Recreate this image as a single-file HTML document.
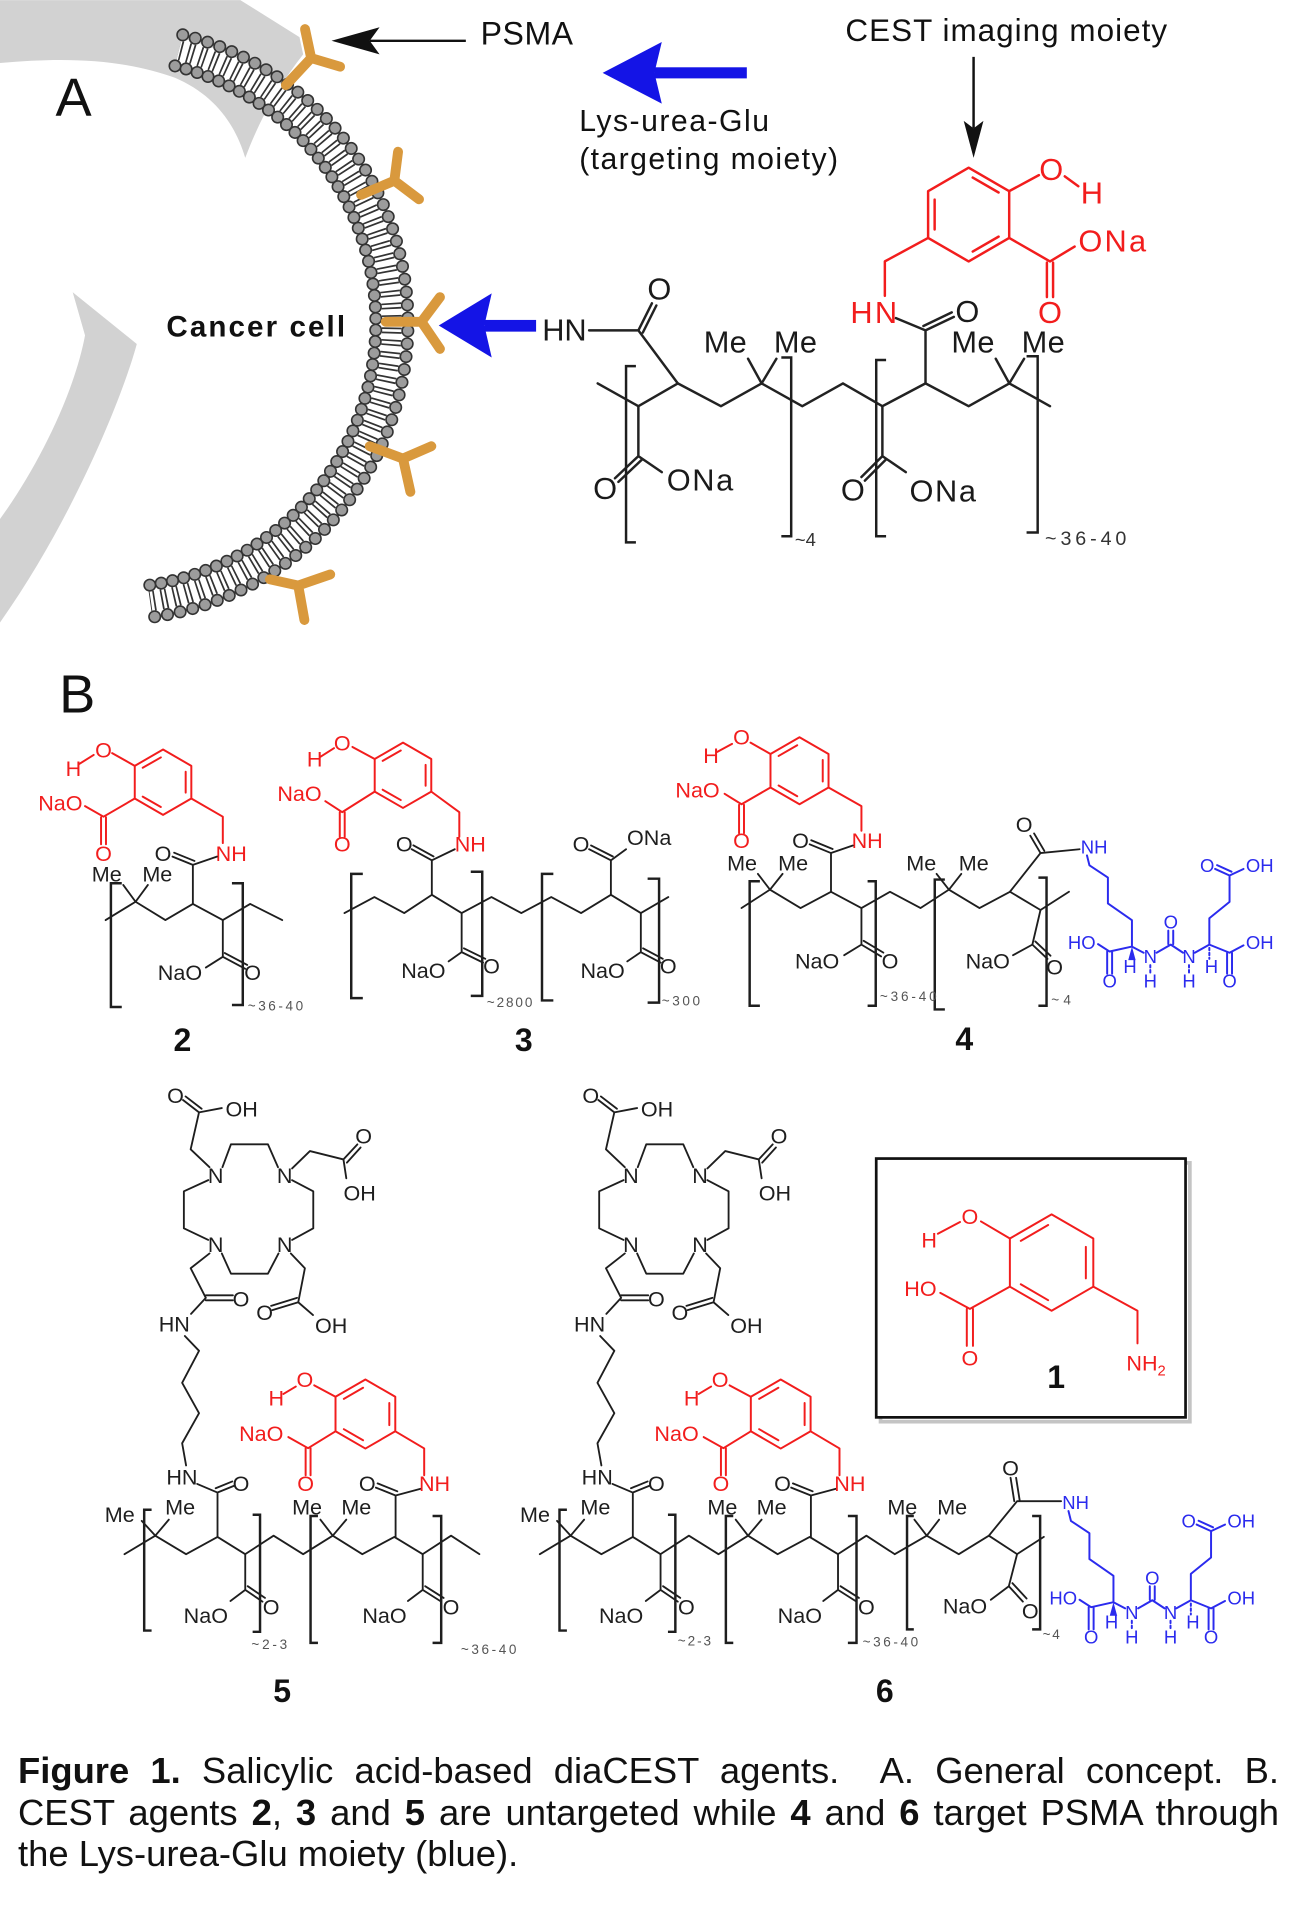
<!DOCTYPE html>
<html><head><meta charset="utf-8">
<style>
html,body{margin:0;padding:0;background:#fff;}
#wrap{position:relative;width:1294px;height:1924px;overflow:hidden;background:#fff;}
svg{position:absolute;left:0;top:0;}
text{font-family:"Liberation Sans",Arial,sans-serif;}
.ka{stroke:#222;stroke-width:2;fill:none;stroke-linecap:round;stroke-linejoin:round}
.ra{stroke:#f21d1d;stroke-width:2;fill:none;stroke-linecap:round;stroke-linejoin:round}
.k{stroke:#1e1e1e;stroke-width:1.5;fill:none;stroke-linecap:round;stroke-linejoin:round}
.r{stroke:#f21d1d;stroke-width:1.6;fill:none;stroke-linecap:round;stroke-linejoin:round}
.u{stroke:#2b2bee;stroke-width:1.6;fill:none;stroke-linecap:round;stroke-linejoin:round}
.br{stroke:#1e1e1e;stroke-width:2;fill:none}
.tk{fill:#1e1e1e;font-size:17.5px}
.tr{fill:#f21d1d;font-size:17.5px}
.tu{fill:#2b2bee;font-size:15px}
.ts{fill:#555;font-size:11px}
.ta{fill:#1a1a1a;font-size:25px}
.tar{fill:#f21d1d;font-size:25px}
.lbl{fill:#111;font-size:26px;font-weight:bold}
.m{text-anchor:middle}
.e{text-anchor:end}
.cap{position:absolute;left:18px;width:1261px;font-family:"Liberation Sans",Arial,sans-serif;font-size:36.4px;line-height:36.4px;color:#111;text-align:justify;text-align-last:justify;}
</style></head>
<body><div id="wrap">
<svg width="1294" height="1924" viewBox="0 0 1050 1561" xmlns="http://www.w3.org/2000/svg">
<!-- ===== A ===== -->
<path d="M0,0 L195,0 L243,30 L246,44 C232,62 214,88 199,128 C190,98 172,76 142,63 C100,48 55,46 0,51 Z" fill="#d2d2d2"/>
<path d="M59,237 L111,279 C100,320 60,420 0,505 L0,421 C30,380 60,320 69,272 Z" fill="#d2d2d2"/>
<!-- membrane -->
<path d="M145.16,40.77 A228,228 0 0 1 121.73,487.78" stroke="#fff" stroke-width="20" fill="none"/>
<path d="M145.16,40.77 A228,228 0 0 1 121.73,487.78" stroke="#333" stroke-width="16" fill="none" stroke-dasharray="5 4.9484" stroke-dashoffset="2.5"/>
<path d="M145.16,40.77 A228,228 0 0 1 121.73,487.78" stroke="#fff" stroke-width="16" fill="none" stroke-dasharray="2.2 7.7484" stroke-dashoffset="1.1"/>
<path d="M148.30,28.16 A241,241 0 0 1 123.54,500.66" stroke="#333" stroke-width="10.6" fill="none" stroke-linecap="round" stroke-dasharray="0 10.5156"/>
<path d="M148.30,28.16 A241,241 0 0 1 123.54,500.66" stroke="#9c9c9c" stroke-width="8" fill="none" stroke-linecap="round" stroke-dasharray="0 10.5156"/>
<path d="M142.01,53.39 A215,215 0 0 1 119.92,474.91" stroke="#333" stroke-width="10.6" fill="none" stroke-linecap="round" stroke-dasharray="0 9.3811"/>
<path d="M142.01,53.39 A215,215 0 0 1 119.92,474.91" stroke="#9c9c9c" stroke-width="8" fill="none" stroke-linecap="round" stroke-dasharray="0 9.3811"/>
<!-- PSMA receptors -->
<g stroke="#d9993d" stroke-width="8" fill="none" stroke-linecap="round" stroke-linejoin="round">
<path d="M232,69 L252.5,47 M247.5,23.5 L252.5,47 L276,54"/>
<path d="M293,158 L320,146.5 M323,123 L320,146.5 L340,161.6"/>
<path d="M313,261 L342,261 M357,241 L342,261 L357,283"/>
<path d="M300,362 L327,372 M350,362 L327,372 L333,399"/>
<path d="M219,470 L242,475 M268,466 L242,475 L247,503"/>
</g>
<text x="45" y="94" font-size="44" fill="#111">A</text>
<text x="390" y="36" font-size="26" fill="#111" textLength="75">PSMA</text>
<path d="M378,33 H300" stroke="#111" stroke-width="2"/>
<polygon points="269,33 308,22 300,33 308,44" fill="#111"/>
<text x="686" y="33" font-size="25.5" fill="#111" textLength="261">CEST imaging moiety</text>
<path d="M790,46 V104" stroke="#111" stroke-width="2"/>
<polygon points="790,128 782,98 790,104 798,98" fill="#111"/>
<polygon points="489,59 537,34 531,59 537,84" fill="#1414e6"/>
<rect x="531" y="54.5" width="75" height="9" fill="#1414e6"/>
<text x="470" y="106" font-size="24.5" fill="#111" textLength="154">Lys-urea-Glu</text>
<text x="470" y="137" font-size="24.5" fill="#111" textLength="210">(targeting moiety)</text>
<text x="135" y="273" font-size="24" font-weight="bold" fill="#111" textLength="145">Cancer cell</text>
<polygon points="356,264 399,238 393,264 399,290" fill="#1414e6"/>
<rect x="393" y="259.5" width="42" height="9.5" fill="#1414e6"/>
<!-- A chemistry -->
<text x="440" y="276" class="ta" textLength="36">HN</text>
<path class="ka" d="M478,268 H518 L550,311"/>
<path class="ka" d="M518,268 L529,246 M521.6,269.8 L532.6,247.8"/>
<text x="535" y="243" class="ta m">O</text>
<path class="ka" d="M485,311 L518,329.5 L550,311 L585,329.5 L618,311 L651,329.5 L684,311 L716,329.5 L751,311 L786,329.5 L819,311 L852,329.5"/>
<path class="ka" d="M607,291 L618,311 L630,291 M808,291 L819,311 L831,291"/>
<text x="571" y="286" class="ta" textLength="35">Me</text>
<text x="628" y="286" class="ta" textLength="35">Me</text>
<text x="772" y="286" class="ta" textLength="35">Me</text>
<text x="829" y="286" class="ta" textLength="35">Me</text>
<path class="ka" d="M518,329.5 V370 L537,383 M518,370 L499,388 M520.8,372.9 L501.8,390.9"/>
<text x="491" y="405" class="ta m">O</text>
<text x="541" y="398" class="ta" textLength="54">ONa</text>
<path class="ka" d="M716,329.5 V370 L735,383 M716,370 L699,387 M718.8,372.9 L701.8,389.9"/>
<text x="692" y="406" class="ta m">O</text>
<text x="738" y="407" class="ta" textLength="54">ONa</text>
<path class="ka" d="M727,258 L751,268 V311 M751,268 L774,257 M749.3,264.4 L772.3,253.4"/>
<text x="785" y="261" class="ta m">O</text>
<path class="br" d="M516,297 H508 V440 H516 M634,290 H642 V435 H634 M719,292 H711 V435 H719 M833,289 H842 V432 H833"/>
<text x="645" y="443" font-size="15" fill="#333">~4</text>
<text x="848" y="442" font-size="16" fill="#333" textLength="66">~36-40</text>
<!-- red A -->
<path class="ra" d="M786,136 L818.9,155 L818.9,193 L786,212 L753.1,193 L753.1,155 Z"/>
<path class="ra" d="M789.3,144 L810.3,156.1 M810.3,191.9 L789.3,204 M758.4,186.1 V161.9"/>
<path class="ra" d="M818.9,155 L843,142 M864,143 L875,151 M818.9,193 L852,212 L872,200 M849.5,213 V241 M854.5,213 V241 M753.1,193 L718,212 V240"/>
<text x="853" y="146" class="tar m">O</text>
<text x="886" y="165" class="tar m">H</text>
<text x="875" y="204" class="tar" textLength="55">ONa</text>
<text x="852" y="262" class="tar m">O</text>
<text x="690" y="262" class="tar" textLength="38">HN</text>

<!-- ===== B ===== -->
<text x="48" y="578" font-size="44" fill="#111">B</text>

<!-- compound 2 -->
<path class="r" d="M132.3,608.1 L155.25,621.35 L155.25,647.85 L132.3,661.1 L109.35,647.85 L109.35,621.35 Z"/>
<path class="r" d="M115.8,622.9 L130.5,614.5 M150.66,626.1 V643.1 M115.8,646.3 L130.5,654.7"/>
<path class="r" d="M109.35,621.35 L91,611 M64,620 L76,612.5 M109.35,647.85 L84,662.6 L69,654 M82,663 V685 M86,663 V685 M155.25,647.85 L180.8,662.6 V684"/>
<text x="84" y="614.5" class="tr m">O</text>
<text x="59.6" y="629.5" class="tr m">H</text>
<text x="67" y="657.5" class="tr e">NaO</text>
<text x="84" y="698.4" class="tr m">O</text>
<text x="175" y="698.4" class="tr">NH</text>
<path class="k" d="M176,695 L156.5,701.7 V733.4 M156.5,701.7 L140,695 M157.8,698.5 L141.3,691.8"/>
<text x="132.3" y="698.4" class="tk m">O</text>
<path class="k" d="M85.7,746.5 L110,731.6 L134.2,746.5 L156.5,733.4 L180.8,746.5 L203,733.4 L229,746.5 M100,718 L110,731.6 L120,718"/>
<text x="74.5" y="715" class="tk">Me</text>
<text x="115.5" y="715" class="tk">Me</text>
<path class="k" d="M180.8,746.5 V776.3 L167,785 M180.8,776.3 L199,786 M182.4,773.2 L200.6,782.9"/>
<text x="205" y="795.3" class="tk m">O</text>
<text x="164" y="795.3" class="tk e">NaO</text>
<path class="br" d="M98.8,716.6 H90 V817 H98.8 M188.2,716.6 H197 V815.4 H188.2"/>
<text x="201" y="820" class="ts" textLength="45">~36-40</text>
<text x="148" y="852.7" class="lbl m">2</text>

<!-- compound 3 -->
<path class="r" d="M327,602.5 L349.95,615.75 L349.95,642.25 L327,655.5 L304.05,642.25 L304.05,615.75 Z"/>
<path class="r" d="M310.5,617.3 L325.2,608.9 M345.36,620.5 V637.5 M310.5,640.7 L325.2,649.1"/>
<path class="r" d="M304.05,615.75 L286,606 M260,614 L271,607 M304.05,642.25 L277.7,658.9 L264,650 M275.7,659 V679 M279.7,659 V679 M349.95,642.25 L372.7,658.9 V679"/>
<text x="277.7" y="609" class="tr m">O</text>
<text x="255.3" y="622" class="tr m">H</text>
<text x="261" y="650" class="tr e">NaO</text>
<text x="277.7" y="691" class="tr m">O</text>
<text x="369" y="691" class="tr">NH</text>
<path class="k" d="M369,689 L350.4,698 V726 M350.4,698 L334,689 M351.8,694.8 L335.4,685.8"/>
<text x="328" y="691" class="tk m">O</text>
<path class="k" d="M279.5,740.8 L303.8,727.8 L328,740.8 L350.4,726 L374.6,740.8 L398.8,727.8 L423,740.8 L447.3,727.8 L471.5,740.8 L495.7,726 L520,740.8 L542.3,727.8"/>
<path class="k" d="M374.6,740.8 V772.5 L364,780 M374.6,772.5 L392,781 M376.4,769.4 L393.8,777.9"/>
<text x="398.8" y="789.7" class="tk m">O</text>
<text x="361.5" y="793.4" class="tk e">NaO</text>
<path class="k" d="M495.7,726 V698 L508,689 M495.7,698 L478,689 M497.3,694.9 L479.6,685.9"/>
<text x="471.5" y="691" class="tk m">O</text>
<text x="508.8" y="685.4" class="tk">ONa</text>
<path class="k" d="M520,740.8 V772.5 L509,780 M520,772.5 L536,781 M521.8,769.4 L537.8,777.9"/>
<text x="542.3" y="789.7" class="tk m">O</text>
<text x="507" y="793.4" class="tk e">NaO</text>
<path class="br" d="M294.4,709 H285 V809.8 H294.4 M382,707.3 H391.3 V808 H382 M449,709 H439.8 V811.7 H449 M525.5,712.9 H534.8 V813.5 H525.5"/>
<text x="395" y="817" class="ts" textLength="37">~2800</text>
<text x="537" y="815.6" class="ts" textLength="31">~300</text>
<text x="425" y="852.7" class="lbl m">3</text>

<!-- compound 4 -->
<path class="r" d="M648.75,598.1 L672.3,611.7 L672.3,638.9 L648.75,652.5 L625.2,638.9 L625.2,611.7 Z"/>
<path class="r" d="M631.8,613.3 L646.9,604.6 M667.6,616.6 V634 M631.8,637.3 L646.9,646"/>
<path class="r" d="M625.2,611.7 L609,602.5 M582,610 L594,603.5 M625.2,638.9 L601.7,652.5 L588,644 M599.7,653 V676 M603.7,653 V676 M672.3,638.9 L699,654 V674"/>
<text x="601.7" y="604" class="tr m">O</text>
<text x="577" y="619" class="tr m">H</text>
<text x="584" y="647" class="tr e">NaO</text>
<text x="601.7" y="688" class="tr m">O</text>
<text x="691" y="688" class="tr">NH</text>
<path class="k" d="M692,686 L674.3,692.1 V723.5 M674.3,692.1 L657,685 M675.6,688.8 L658.3,681.7"/>
<text x="649.6" y="688" class="tk m">O</text>
<path class="k" d="M601.7,736.7 L624.8,721.8 L649.6,736.7 L674.3,723.5 L699,736.7 L722.2,723.5 L747,736.7 L770,721.8 L794.8,736.7 L819.5,723.5 L844.3,738.3 L867.4,723.5"/>
<path class="k" d="M615,709 L624.8,721.8 L635,709 M760,709 L770,721.8 L780,709"/>
<text x="590" y="706.4" class="tk">Me</text>
<text x="631.4" y="706.4" class="tk">Me</text>
<text x="735.4" y="706.4" class="tk">Me</text>
<text x="778" y="706.4" class="tk">Me</text>
<path class="k" d="M699,736.7 V766.4 L685,775 M699,766.4 L715,776 M700.8,763.3 L716.8,772.9"/>
<text x="722.2" y="785.6" class="tk m">O</text>
<text x="681" y="785.6" class="tk e">NaO</text>
<path class="k" d="M819.5,723.5 L844.3,692.1 L876,689 M844.3,692.1 L836,678 M847.4,690.3 L839.1,676.2"/>
<text x="831" y="675" class="tk m">O</text>
<path class="k" d="M844.3,738.3 L837.7,766.4 L822,775 M837.7,766.4 L850,778 M840.1,763.8 L852.4,775.4"/>
<text x="855.8" y="790.5" class="tk m">O</text>
<text x="819.5" y="785.6" class="tk e">NaO</text>
<path class="br" d="M616.6,715 H608.3 V816 H616.6 M704,715 H710.6 V816 H704 M766.7,713.6 H758.5 V819 H766.7 M842.6,712 H849.2 V816 H842.6"/>
<text x="714" y="812" class="ts" textLength="46">~36-40</text>
<text x="853" y="815" class="ts" textLength="16">~4</text>
<text x="782.5" y="852" class="lbl m">4</text>
<!-- blue moiety (4) -->
<g>
<path class="u" d="M882,694 L884,702 L899,712 L899,733 L918.5,746.6 L918.5,768 M918.5,768 L900.4,772 L891,766 M898.4,772 V790 M902.4,772 V790 M918.5,768 L928,773 M938.5,773 L950,766.4 L960,773 M948,766 V755 M952,766 V755 M969.5,773 L981.3,766.4 L997.7,773 L1009,767 M995.7,773 V790 M999.7,773 V790 M981.3,766.4 V745 L997.7,731.7 V710.3 L986,705 M999.3,707.2 L987.6,701.9 M997.7,710.3 L1009,705"/>
<path class="u" d="M933.4,783 V790 M964.8,783 V790 M981.3,769 V778" stroke-dasharray="2 2"/>
<polygon points="918.5,768 915.5,779 921.5,779" fill="#2b2bee"/>
<text x="877" y="692.5" class="tu">NH</text>
<text x="889" y="770" class="tu e">HO</text>
<text x="900.4" y="801.3" class="tu m">O</text>
<text x="917" y="789.5" class="tu m" font-size="14">H</text>
<text x="933.4" y="781.5" class="tu m">N</text>
<text x="933.4" y="801.3" class="tu m" font-size="14">H</text>
<text x="950" y="753.5" class="tu m">O</text>
<text x="964.8" y="781.5" class="tu m">N</text>
<text x="964.8" y="801.3" class="tu m" font-size="14">H</text>
<text x="983" y="789.5" class="tu m" font-size="14">H</text>
<text x="1011" y="770" class="tu">OH</text>
<text x="997.7" y="801.3" class="tu m">O</text>
<text x="979.6" y="707.5" class="tu m">O</text>
<text x="1011" y="707.5" class="tu">OH</text>
</g>

<!-- compound 5 -->
<g>
<path class="k" d="M170,947 L154.7,932.5 L161.5,902.5 M161.5,902.5 L148.5,892.5 M163.6,899.6 L150.6,889.6 M161.5,902.5 L180,899"/>
<path class="k" d="M180.5,947 L187.4,928.4 L217.4,928.4 L225.6,947 M237,957.5 L254.2,966.6 L254.2,996.6 L237,1006 M226,1017 L217.4,1033.4 L187.4,1033.4 L180,1017 M169,1006 L149.2,996.6 L149.2,966.6 L169,957.5"/>
<path class="k" d="M237,948 L251.5,933.9 L278.7,940.7 M278.7,940.7 L290,928.5 M281.5,943.3 L292.6,931 M278.7,940.7 L281,956"/>
<path class="k" d="M236,1017 L247.4,1029 L242,1056.6 M242,1056.6 L221,1063 M241,1053 L220,1059.5 M242,1056.6 L254,1067"/>
<path class="k" d="M170,1017 L154.7,1029 L167,1053 M167,1051 H189 M167,1055 H189 M167,1053 L155,1066"/>
<path class="k" d="M150,1084 L161.5,1096 L147.8,1122 L161.5,1146.6 L147.8,1171 L151,1189"/>
<path class="k" d="M160,1204 L176.5,1211 V1247 M176.5,1211 L190,1205.5 M175,1207.5 L188.5,1202"/>
<path class="k" d="M101,1261 L126,1246 L151,1261 L176.5,1247 L199,1261 L222,1246 L246,1261 L270,1246 L294,1261 L320,1247 L343,1261 L366,1246 L389,1261"/>
<path class="k" d="M115,1234 L126,1246 L137,1233 M260,1233 L270,1246 L281,1233"/>
<path class="k" d="M199,1261 V1290 L187,1299 M199,1290 L213,1299.5 M201,1287 L215,1296.5"/>
<path class="k" d="M343,1261 V1290 L331,1299 M343,1290 L358,1299.5 M345,1287 L360,1296.5"/>
<path class="k" d="M341,1208 L321,1213.4 V1247 M321,1213.4 L305,1207 M322.4,1210 L306.4,1203.6"/>
<path class="r" d="M296.5,1119.3 L320.75,1133.3 L320.75,1161.3 L296.5,1175.3 L272.25,1161.3 L272.25,1133.3 Z"/>
<path class="r" d="M279,1135 L294.6,1126 M315.9,1138.3 V1156.3 M279,1159.6 L294.6,1168.6"/>
<path class="r" d="M272.25,1133.3 L255,1124 M230,1131 L240,1125 M272.25,1161.3 L250,1175 L234,1166 M248,1175 V1197 M252,1175 V1197 M320.75,1161.3 L344.2,1175.2 V1197"/>
<path class="br" d="M123,1225 H117 V1323 H123 M205,1229 H211 V1324 H205 M258,1230 H252 V1333 H258 M351,1230 H358 V1333 H351"/>
<text x="142.4" y="894.9" class="tk m">O</text>
<text x="183" y="905.8" class="tk">OH</text>
<text x="175" y="960" class="tk m">N</text>
<text x="231" y="960" class="tk m">N</text>
<text x="175" y="1016" class="tk m">N</text>
<text x="231" y="1016" class="tk m">N</text>
<text x="295.1" y="927.6" class="tk m">O</text>
<text x="278.7" y="974" class="tk">OH</text>
<text x="214.7" y="1070.8" class="tk m">O</text>
<text x="255.6" y="1081.7" class="tk">OH</text>
<text x="195.6" y="1059.9" class="tk m">O</text>
<text x="128.8" y="1080.3" class="tk">HN</text>
<text x="135" y="1204.4" class="tk">HN</text>
<text x="195.6" y="1209.8" class="tk m">O</text>
<text x="85" y="1235" class="tk">Me</text>
<text x="134" y="1229" class="tk">Me</text>
<text x="237" y="1229" class="tk">Me</text>
<text x="277" y="1229" class="tk">Me</text>
<text x="298" y="1209.8" class="tk m">O</text>
<text x="220" y="1310" class="tk m">O</text>
<text x="185" y="1317" class="tk e">NaO</text>
<text x="366" y="1310" class="tk m">O</text>
<text x="330" y="1317" class="tk e">NaO</text>
<text x="247.4" y="1125.3" class="tr m">O</text>
<text x="224.2" y="1140.3" class="tr m">H</text>
<text x="230" y="1169" class="tr e">NaO</text>
<text x="248" y="1209.8" class="tr m">O</text>
<text x="340" y="1209.8" class="tr">NH</text>
</g>
<text x="204" y="1338" class="ts" textLength="29">~2-3</text>
<text x="374" y="1342" class="ts" textLength="45">~36-40</text>
<text x="229" y="1381" class="lbl m">5</text>

<!-- compound 6 -->
<g transform="translate(337,0)">
<path class="k" d="M170,947 L154.7,932.5 L161.5,902.5 M161.5,902.5 L148.5,892.5 M163.6,899.6 L150.6,889.6 M161.5,902.5 L180,899"/>
<path class="k" d="M180.5,947 L187.4,928.4 L217.4,928.4 L225.6,947 M237,957.5 L254.2,966.6 L254.2,996.6 L237,1006 M226,1017 L217.4,1033.4 L187.4,1033.4 L180,1017 M169,1006 L149.2,996.6 L149.2,966.6 L169,957.5"/>
<path class="k" d="M237,948 L251.5,933.9 L278.7,940.7 M278.7,940.7 L290,928.5 M281.5,943.3 L292.6,931 M278.7,940.7 L281,956"/>
<path class="k" d="M236,1017 L247.4,1029 L242,1056.6 M242,1056.6 L221,1063 M241,1053 L220,1059.5 M242,1056.6 L254,1067"/>
<path class="k" d="M170,1017 L154.7,1029 L167,1053 M167,1051 H189 M167,1055 H189 M167,1053 L155,1066"/>
<path class="k" d="M150,1084 L161.5,1096 L147.8,1122 L161.5,1146.6 L147.8,1171 L151,1189"/>
<path class="k" d="M160,1204 L176.5,1211 V1247 M176.5,1211 L190,1205.5 M175,1207.5 L188.5,1202"/>
<path class="k" d="M101,1261 L126,1246 L151,1261 L176.5,1247 L199,1261 L222,1246 L246,1261 L270,1246 L294,1261 L320,1247 L343,1261 L366,1246 L389,1261"/>
<path class="k" d="M115,1234 L126,1246 L137,1233 M260,1233 L270,1246 L281,1233"/>
<path class="k" d="M199,1261 V1290 L187,1299 M199,1290 L213,1299.5 M201,1287 L215,1296.5"/>
<path class="k" d="M343,1261 V1290 L331,1299 M343,1290 L358,1299.5 M345,1287 L360,1296.5"/>
<path class="k" d="M341,1208 L321,1213.4 V1247 M321,1213.4 L305,1207 M322.4,1210 L306.4,1203.6"/>
<path class="r" d="M296.5,1119.3 L320.75,1133.3 L320.75,1161.3 L296.5,1175.3 L272.25,1161.3 L272.25,1133.3 Z"/>
<path class="r" d="M279,1135 L294.6,1126 M315.9,1138.3 V1156.3 M279,1159.6 L294.6,1168.6"/>
<path class="r" d="M272.25,1133.3 L255,1124 M230,1131 L240,1125 M272.25,1161.3 L250,1175 L234,1166 M248,1175 V1197 M252,1175 V1197 M320.75,1161.3 L344.2,1175.2 V1197"/>
<path class="br" d="M123,1225 H117 V1323 H123 M205,1229 H211 V1324 H205 M258,1230 H252 V1333 H258 M351,1230 H358 V1333 H351"/>
<text x="142.4" y="894.9" class="tk m">O</text>
<text x="183" y="905.8" class="tk">OH</text>
<text x="175" y="960" class="tk m">N</text>
<text x="231" y="960" class="tk m">N</text>
<text x="175" y="1016" class="tk m">N</text>
<text x="231" y="1016" class="tk m">N</text>
<text x="295.1" y="927.6" class="tk m">O</text>
<text x="278.7" y="974" class="tk">OH</text>
<text x="214.7" y="1070.8" class="tk m">O</text>
<text x="255.6" y="1081.7" class="tk">OH</text>
<text x="195.6" y="1059.9" class="tk m">O</text>
<text x="128.8" y="1080.3" class="tk">HN</text>
<text x="135" y="1204.4" class="tk">HN</text>
<text x="195.6" y="1209.8" class="tk m">O</text>
<text x="85" y="1235" class="tk">Me</text>
<text x="134" y="1229" class="tk">Me</text>
<text x="237" y="1229" class="tk">Me</text>
<text x="277" y="1229" class="tk">Me</text>
<text x="298" y="1209.8" class="tk m">O</text>
<text x="220" y="1310" class="tk m">O</text>
<text x="185" y="1317" class="tk e">NaO</text>
<text x="366" y="1310" class="tk m">O</text>
<text x="330" y="1317" class="tk e">NaO</text>
<text x="247.4" y="1125.3" class="tr m">O</text>
<text x="224.2" y="1140.3" class="tr m">H</text>
<text x="230" y="1169" class="tr e">NaO</text>
<text x="248" y="1209.8" class="tr m">O</text>
<text x="340" y="1209.8" class="tr">NH</text>
</g>
<path class="k" d="M726,1261 L752,1246 L778,1261 L802.4,1246 L825.3,1261 L847,1247 M742,1233 L752,1246 L762,1233"/>
<path class="k" d="M802.4,1246 L825.3,1218 L861,1218 M823,1218 L820,1199 M827.5,1218 L824.5,1199"/>
<path class="k" d="M825.3,1261 L818.6,1287 L804,1298 M818.6,1287 L830,1299.5 M821.5,1284.5 L833,1297"/>
<path class="br" d="M741.5,1230 H736 V1322 H741.5 M837.5,1230 H844 V1322 H837.5"/>
<text x="720" y="1229" class="tk">Me</text>
<text x="760.5" y="1229" class="tk">Me</text>
<text x="820" y="1197" class="tk m">O</text>
<text x="836" y="1313.4" class="tk m">O</text>
<text x="801" y="1309" class="tk e">NaO</text>
<text x="550" y="1335" class="ts" textLength="27">~2-3</text>
<text x="700" y="1336" class="ts" textLength="45">~36-40</text>
<text x="846" y="1330" class="ts" textLength="14">~4</text>
<text x="718" y="1381" class="lbl m">6</text>
<g transform="translate(-15,532)">
<path class="u" d="M882,694 L884,702 L899,712 L899,733 L918.5,746.6 L918.5,768 M918.5,768 L900.4,772 L891,766 M898.4,772 V790 M902.4,772 V790 M918.5,768 L928,773 M938.5,773 L950,766.4 L960,773 M948,766 V755 M952,766 V755 M969.5,773 L981.3,766.4 L997.7,773 L1009,767 M995.7,773 V790 M999.7,773 V790 M981.3,766.4 V745 L997.7,731.7 V710.3 L986,705 M999.3,707.2 L987.6,701.9 M997.7,710.3 L1009,705"/>
<path class="u" d="M933.4,783 V790 M964.8,783 V790 M981.3,769 V778" stroke-dasharray="2 2"/>
<polygon points="918.5,768 915.5,779 921.5,779" fill="#2b2bee"/>
<text x="877" y="692.5" class="tu">NH</text>
<text x="889" y="770" class="tu e">HO</text>
<text x="900.4" y="801.3" class="tu m">O</text>
<text x="917" y="789.5" class="tu m" font-size="14">H</text>
<text x="933.4" y="781.5" class="tu m">N</text>
<text x="933.4" y="801.3" class="tu m" font-size="14">H</text>
<text x="950" y="753.5" class="tu m">O</text>
<text x="964.8" y="781.5" class="tu m">N</text>
<text x="964.8" y="801.3" class="tu m" font-size="14">H</text>
<text x="983" y="789.5" class="tu m" font-size="14">H</text>
<text x="1011" y="770" class="tu">OH</text>
<text x="997.7" y="801.3" class="tu m">O</text>
<text x="979.6" y="707.5" class="tu m">O</text>
<text x="1011" y="707.5" class="tu">OH</text>
</g>

<!-- box 1 -->
<rect x="714.5" y="943.5" width="251" height="210" fill="none" stroke="#c4c4c4" stroke-width="3"/>
<rect x="711" y="940" width="251" height="210" fill="#fff" stroke="#111" stroke-width="2.2"/>
<path class="r" stroke-width="1.8" d="M853.3,985.3 L887.15,1004.85 L887.15,1043.95 L853.3,1063.5 L819.45,1043.95 L819.45,1004.85 Z"/>
<path class="r" stroke-width="1.8" d="M828.3,1006.8 L850.5,993.9 M881.1,1011.6 V1037.2 M828.3,1042 L850.5,1054.9"/>
<path class="r" stroke-width="1.8" d="M819.45,1004.85 L796,991 M761,1001 L779,991.5 M819.45,1043.95 L787,1062 L763,1049 M784.5,1062 V1092 M789.5,1062 V1092 M887.15,1043.95 L923,1063.5 V1090"/>
<text x="787" y="993" class="tr m" font-size="19">O</text>
<text x="754" y="1012" class="tr m" font-size="19">H</text>
<text x="760" y="1051.5" class="tr e" font-size="19">HO</text>
<text x="787" y="1108" class="tr m" font-size="19">O</text>
<text x="914" y="1112" class="tr" font-size="19">NH<tspan font-size="12" dy="4">2</tspan></text>
<text x="857" y="1126" class="lbl m" font-size="28">1</text>
</svg>
<div class="cap" style="top:1753px"><b>Figure 1.</b> Salicylic acid-based diaCEST agents.&nbsp; A. General concept. B.</div>
<div class="cap" style="top:1794.5px">CEST agents <b>2</b>, <b>3</b> and <b>5</b> are untargeted while <b>4</b> and <b>6</b> target PSMA through</div>
<div class="cap" style="top:1836px;text-align:left;text-align-last:left">the Lys-urea-Glu moiety (blue).</div>
</div>
</body></html>
